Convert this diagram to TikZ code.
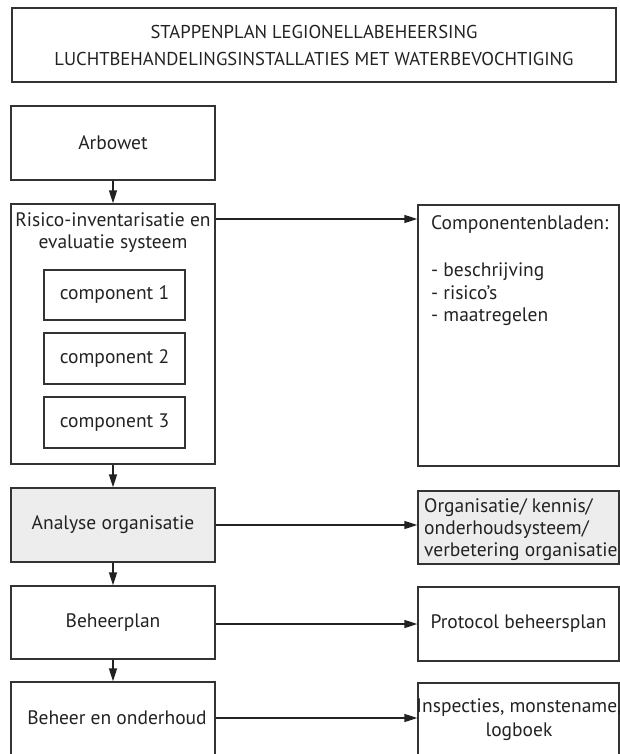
\documentclass[tikz,border=0pt]{standalone}
\usepackage{fontspec}
\setmainfont{PT Sans}
\usetikzlibrary{arrows.meta}
\definecolor{ink}{HTML}{222222}
\definecolor{boxline}{HTML}{333333}
\definecolor{lightfill}{HTML}{EDEDED}
\tikzset{
  x=1pt, y=-1pt,
  box/.style={draw=boxline, line width=1.3pt, rectangle, inner sep=0pt, text=ink, font=\fontsize{19.5}{23}\selectfont},
  grayfill/.style={fill=lightfill},
  lbl/.style={text=ink, inner sep=0pt, font=\fontsize{19.5}{23}\selectfont},
  arr/.style={draw=ink, line width=1.3pt, -{Triangle[length=13pt,width=8pt]}},
}
\begin{document}
\begin{tikzpicture}
\useasboundingbox (0,0) rectangle (620,754);
\clip (0,0) rectangle (620,754);
% title
\node[box, minimum width=604, minimum height=74, align=center, font=\fontsize{18.6}{27}\selectfont] (title) at (314,45)
  {STAPPENPLAN LEGIONELLABEHEERSING\\LUCHTBEHANDELINGSINSTALLATIES MET WATERBEVOCHTIGING};
% left column
\node[box, minimum width=204, minimum height=74] (arbowet) at (113,143) {Arbowet};
\node[box, minimum width=204, minimum height=260] (risico) at (113,334) {};
\node[lbl, align=center, font=\fontsize{19.5}{22}\selectfont] (risicotext) at (113,233) {Risico-inventarisatie en\\evaluatie systeem};
\node[box, minimum width=141, minimum height=50] (comp1) at (114.5,295) {component 1};
\node[box, minimum width=141, minimum height=51] (comp2) at (114.5,358.5) {component 2};
\node[box, minimum width=141, minimum height=51] (comp3) at (114.5,422.5) {component 3};
\node[box, grayfill, minimum width=204, minimum height=74] (analyse) at (113,525) {Analyse organisatie};
\node[box, minimum width=204, minimum height=73] (beheerplan) at (113,622.5) {Beheerplan};
\node[box, minimum width=204, minimum height=98] (beo) at (113,731) {};
\node[lbl] (beotext) at (117,718) {Beheer en onderhoud};
% right column
\node[box, minimum width=201, minimum height=261] (bladen) at (518.5,335.5) {};
\node[lbl, anchor=north west, align=left, font=\fontsize{19.5}{22.5}\selectfont] (bladentext) at (431,215)
  {Componentenbladen:\\[25pt]- beschrijving\\- risico's\\- maatregelen};
\node[box, grayfill, minimum width=201, minimum height=73] (org) at (518.5,527.5) {};
\node[lbl, anchor=west, align=left, font=\fontsize{19.5}{22}\selectfont] (orgtext) at (424,530)
  {Organisatie/ kennis/\\onderhoudsysteem/\\verbetering organisatie};
\node[box, minimum width=201, minimum height=74] (protocol) at (518.5,624) {Protocol beheersplan};
\node[box, minimum width=201, minimum height=98] (insp) at (518.5,732) {};
\node[lbl, align=center, font=\fontsize{19.5}{24}\selectfont] (insptext) at (519,720) {Inspecties, monstename,\\logboek};
% connectors
\draw[arr] (arbowet.south) -- (risico.north);
\draw[arr] (risico.south) -- (analyse.north);
\draw[arr] (analyse.south) -- (beheerplan.north);
\draw[arr] (beheerplan.south) -- (beo.north);
\coordinate (r1) at (0,219);
\coordinate (r4) at (0,718);
\draw[arr] (risico.east |- r1) -- (bladen.west |- r1);
\draw[arr] (analyse.east) -- (org.west |- analyse.east);
\draw[arr] (beheerplan.east |- protocol.west) -- (protocol.west);
\draw[arr] (beo.east |- r4) -- (insp.west |- r4);
\end{tikzpicture}
\end{document}
